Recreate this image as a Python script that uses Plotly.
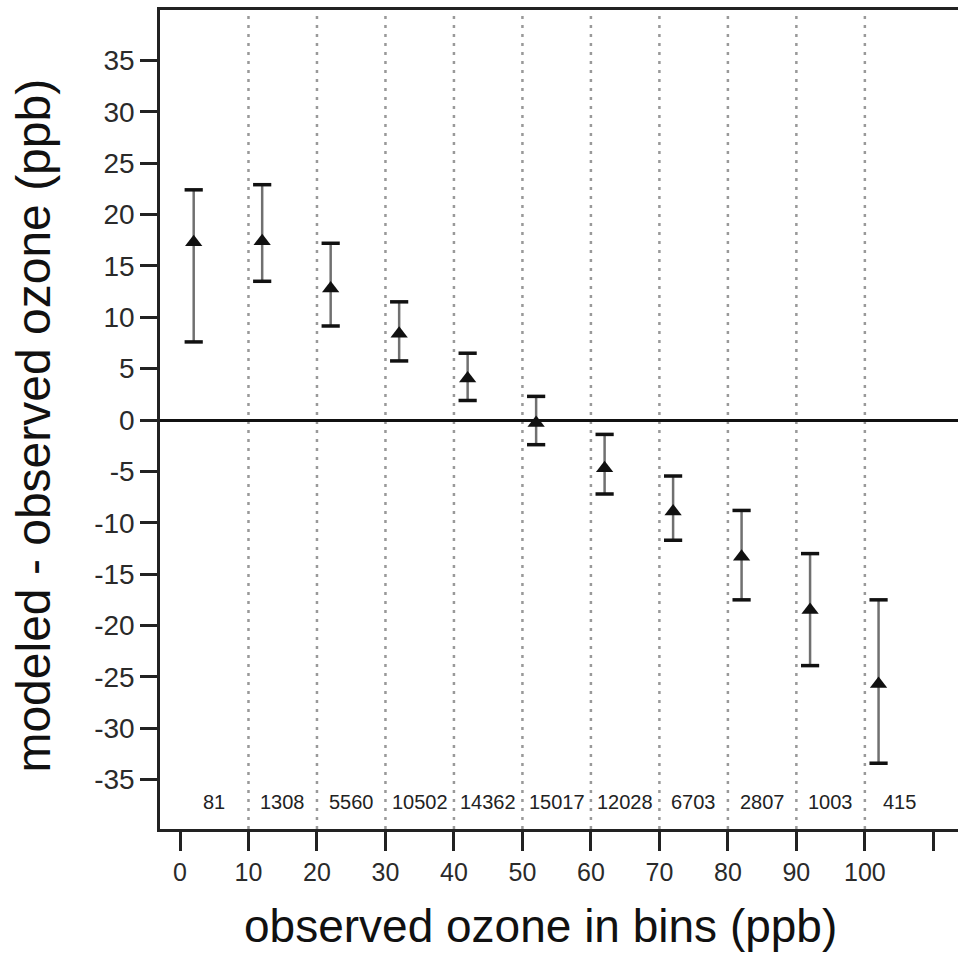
import plotly.graph_objects as go

# ---- data ----
bin_x = [2, 12, 22, 32, 42, 52, 62, 72, 82, 92, 102]
mean_diff = [17.3, 17.4, 12.8, 8.4, 4.05, -0.3, -4.7, -8.9, -13.3, -18.5, -25.7]
upper_lim = [22.4, 22.9, 17.2, 11.5, 6.5, 2.3, -1.4, -5.45, -8.8, -13.0, -17.5]
lower_lim = [7.6, 13.5, 9.15, 5.75, 1.9, -2.4, -7.2, -11.7, -17.5, -23.9, -33.4]
count_x = [5, 15, 25, 35, 45, 55, 65, 75, 85, 95, 105]
counts = ["81", "1308", "5560", "10502", "14362", "15017", "12028", "6703", "2807", "1003", "415"]
count_y = -37.2
bin_edges = [10, 20, 30, 40, 50, 60, 70, 80, 90, 100]
x_tickvals = [0, 10, 20, 30, 40, 50, 60, 70, 80, 90, 100, 110]
x_ticktext = ["0", "10", "20", "30", "40", "50", "60", "70", "80", "90", "100", ""]
y_tickvals = [-35, -30, -25, -20, -15, -10, -5, 0, 5, 10, 15, 20, 25, 30, 35]
y_ticktext = ["-35", "-30", "-25", "-20", "-15", "-10", "-5", "0", "5", "10", "15", "20", "25", "30", "35"]
x_title = "observed ozone in bins (ppb)"
y_title = "modeled - observed ozone (ppb)"

err_up = [u - m for u, m in zip(upper_lim, mean_diff)]
err_dn = [m - l for m, l in zip(mean_diff, lower_lim)]

FONT = "Liberation Sans, Arial, sans-serif"

fig = go.Figure()

# error bar stems
fig.add_trace(go.Scatter(
    x=bin_x, y=mean_diff, mode="markers",
    marker=dict(size=1, color="rgba(0,0,0,0)"),
    error_y=dict(type="data", symmetric=False, array=err_up, arrayminus=err_dn,
                 color="#707070", thickness=2.5, width=0),
    showlegend=False, hoverinfo="skip"))

# caps
fig.add_trace(go.Scatter(
    x=bin_x + bin_x, y=upper_lim + lower_lim, mode="markers",
    marker=dict(symbol="line-ew", size=13, line=dict(color="#111", width=3.5)),
    showlegend=False, hoverinfo="skip"))

# mean markers
fig.add_trace(go.Scatter(
    x=bin_x, y=mean_diff, mode="markers",
    marker=dict(symbol="triangle-up", size=15, color="#111"),
    showlegend=False))

# counts
for cx, ct in zip(count_x, counts):
    fig.add_annotation(x=cx, y=count_y, text=ct, showarrow=False,
                       font=dict(family=FONT, size=20, color="#222"))

# axis titles
fig.add_annotation(x=0.4774, y=-0.118, xref="paper", yref="paper", text=x_title,
                   showarrow=False, xanchor="center", yanchor="middle",
                   font=dict(family=FONT, size=46, color="#111"))
fig.add_annotation(x=-0.158, y=0.4925, xref="paper", yref="paper", text=y_title,
                   showarrow=False, xanchor="center", yanchor="middle", textangle=-90,
                   font=dict(family=FONT, size=48, color="#111"))

# dotted separators
for e in bin_edges:
    fig.add_shape(type="line", xref="x", yref="paper", x0=e, x1=e, y0=0, y1=1,
                  line=dict(color="#999", width=2.5, dash="3px,6px"), layer="below")

fig.update_layout(
    width=958, height=958,
    margin=dict(l=160, r=0, t=10, b=129),
    paper_bgcolor="white", plot_bgcolor="white",
    font=dict(family=FONT, color="#111"),
)

fig.update_xaxes(
    range=[-2.92, 113.6], tickvals=x_tickvals, ticktext=x_ticktext,
    ticks="outside", ticklen=19, tickwidth=2.5, tickcolor="#222",
    tickfont=dict(family=FONT, size=25, color="#2a2a2a"),
    showline=True, linecolor="#222", linewidth=2.5, mirror=True,
    showgrid=False, zeroline=False,
)
fig.update_yaxes(
    range=[-39.8, 39.9], tickvals=y_tickvals, ticktext=y_ticktext,
    ticks="outside", ticklen=17, tickwidth=2.5, tickcolor="#222",
    tickfont=dict(family=FONT, size=28, color="#2a2a2a"),
    showline=True, linecolor="#222", linewidth=2.5, mirror=False,
    showgrid=False, zeroline=True, zerolinecolor="#111", zerolinewidth=2.5,
)

fig.write_html("out.html")
